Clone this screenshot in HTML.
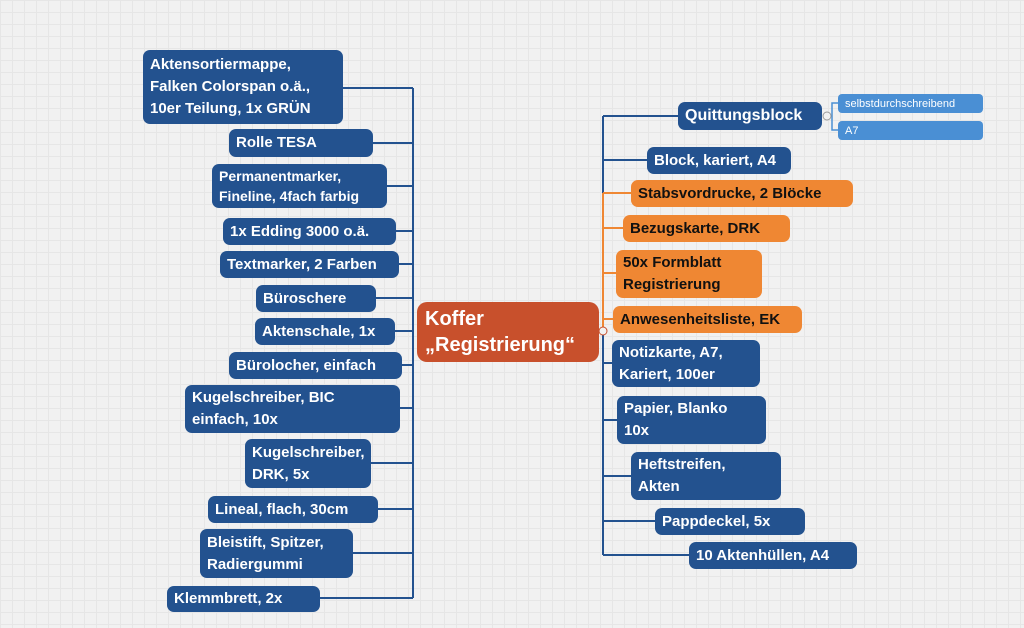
<!DOCTYPE html>
<html><head><meta charset="utf-8"><style>
body{margin:0;width:1024px;height:628px;overflow:hidden;background:#f1f1f1;
background-image:linear-gradient(#e6e6e6 1px,transparent 1px),linear-gradient(90deg,#e6e6e6 1px,transparent 1px);background-size:12px 12px;position:relative;font-family:"Liberation Sans",sans-serif}
.b{position:absolute;background:#23528f;color:#fff;font-weight:bold;font-size:15px;line-height:22px;padding:2px 7px;box-sizing:border-box;border-radius:7px;display:flex;flex-direction:column;justify-content:center;white-space:nowrap}
.o{background:#ef8733;color:#111}
.s{background:#4a8fd4;font-weight:normal;font-size:11px;line-height:14px;border-radius:4px}
svg{position:absolute;left:0;top:0}
</style></head><body>
<svg width="1024" height="628">
<g stroke="#23528f" stroke-width="2" fill="none">
<path d="M413 88V598"/>
<path d="M343 88H413M373 143H413M387 186H413M396 231H413M399 264H413M376 298H413M395 331H413M402 365H413M400 408H413M371 463H413M378 509H413M353 553H413M320 598H413"/>
<path d="M603 116V193M603 333V555"/>
<path d="M603 116H678M603 160H647M603 363H612M603 420H617M603 476H631M603 521H655M603 555H689"/>
<path d="M826 116H832V103H838M832 116V130H838" stroke="#4a8fd4" stroke-width="1.5"/>
</g>
<g stroke="#ef8733" stroke-width="2" fill="none">
<path d="M603 193V333M603 193H631M603 228H623M603 273H616M603 319H613"/>
</g>
<circle cx="603" cy="331" r="4" fill="#f1f1f1" stroke="#c8502c" stroke-width="1"/>
<circle cx="827" cy="116" r="4" fill="#f1f1f1" stroke="#999" stroke-width="1"/>
</svg>
<div class="b" style="left:143px;top:50px;width:200px;height:74px">Aktensortiermappe,<br>Falken Colorspan o.ä.,<br>10er Teilung, 1x GRÜN</div>
<div class="b" style="left:229px;top:129px;width:144px;height:28px">Rolle TESA</div>
<div class="b" style="left:212px;top:164px;width:175px;height:44px;line-height:20px;font-size:14px">Permanentmarker,<br>Fineline, 4fach farbig</div>
<div class="b" style="left:223px;top:218px;width:173px;height:27px">1x Edding 3000 o.ä.</div>
<div class="b" style="left:220px;top:251px;width:179px;height:27px">Textmarker, 2 Farben</div>
<div class="b" style="left:256px;top:285px;width:120px;height:27px">Büroschere</div>
<div class="b" style="left:255px;top:318px;width:140px;height:27px">Aktenschale, 1x</div>
<div class="b" style="left:229px;top:352px;width:173px;height:27px">Bürolocher, einfach</div>
<div class="b" style="left:185px;top:385px;width:215px;height:48px">Kugelschreiber, BIC<br>einfach, 10x</div>
<div class="b" style="left:245px;top:439px;width:126px;height:49px">Kugelschreiber,<br>DRK, 5x</div>
<div class="b" style="left:208px;top:496px;width:170px;height:27px">Lineal, flach, 30cm</div>
<div class="b" style="left:200px;top:529px;width:153px;height:49px">Bleistift, Spitzer,<br>Radiergummi</div>
<div class="b" style="left:167px;top:586px;width:153px;height:26px">Klemmbrett, 2x</div>
<div class="b" style="left:417px;top:302px;width:182px;height:60px;background:#c8502c;font-size:20px;line-height:26px;border-radius:10px;padding-left:8px">Koffer<br>„Registrierung“</div>
<div class="b" style="left:678px;top:102px;width:144px;height:28px;font-size:16px">Quittungsblock</div>
<div class="b s" style="left:838px;top:94px;width:145px;height:19px">selbstdurchschreibend</div>
<div class="b s" style="left:838px;top:121px;width:145px;height:19px">A7</div>
<div class="b" style="left:647px;top:147px;width:144px;height:27px">Block, kariert, A4</div>
<div class="b o" style="left:631px;top:180px;width:222px;height:27px">Stabsvordrucke, 2 Blöcke</div>
<div class="b o" style="left:623px;top:215px;width:167px;height:27px">Bezugskarte, DRK</div>
<div class="b o" style="left:616px;top:250px;width:146px;height:48px">50x Formblatt<br>Registrierung</div>
<div class="b o" style="left:613px;top:306px;width:189px;height:27px">Anwesenheitsliste, EK</div>
<div class="b" style="left:612px;top:340px;width:148px;height:47px">Notizkarte, A7,<br>Kariert, 100er</div>
<div class="b" style="left:617px;top:396px;width:149px;height:48px">Papier, Blanko<br>10x</div>
<div class="b" style="left:631px;top:452px;width:150px;height:48px">Heftstreifen,<br>Akten</div>
<div class="b" style="left:655px;top:508px;width:150px;height:27px">Pappdeckel, 5x</div>
<div class="b" style="left:689px;top:542px;width:168px;height:27px">10 Aktenhüllen, A4</div>
</body></html>
